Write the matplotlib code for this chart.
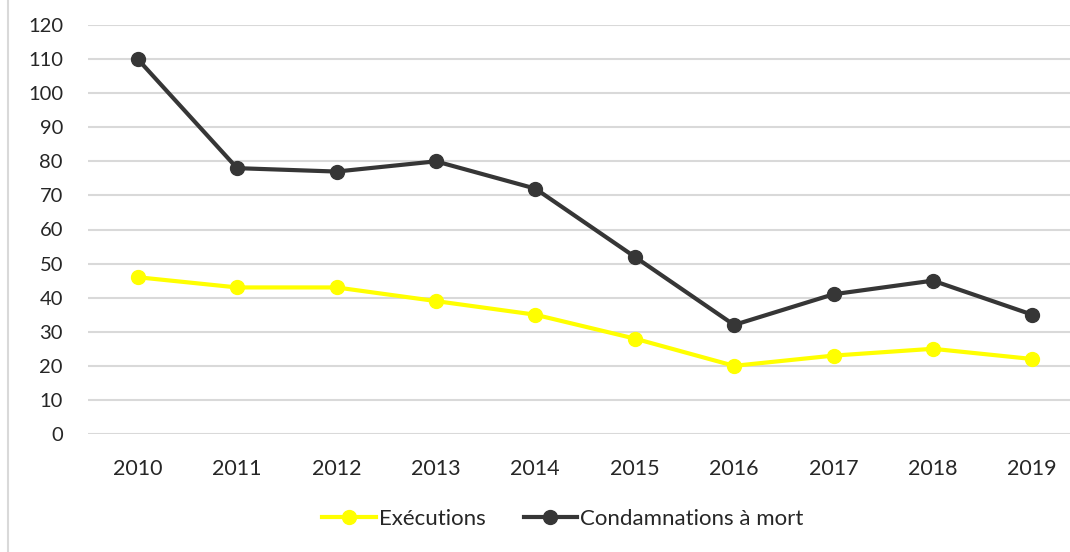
import matplotlib
matplotlib.use("Agg")
import matplotlib.pyplot as plt
from matplotlib.lines import Line2D

annees = ['2010', '2011', '2012', '2013', '2014', '2015', '2016', '2017', '2018', '2019']
executions = [46, 43, 43, 39, 35, 28, 20, 23, 25, 22]
condamnations = [110, 78, 77, 80, 72, 52, 32, 41, 45, 35]

plt.rcParams['font.family'] = ['Lato', 'DejaVu Sans']

fig = plt.figure(figsize=(10.7, 5.52), dpi=100)
ax = fig.add_axes([88 / 1070, 1 - 434 / 552, 994 / 1070, 409 / 552])

x = range(len(annees))
ax.plot(x, executions, color='#FFFF00', lw=3, marker='o', ms=10, label='Exécutions', zorder=3)
ax.plot(x, condamnations, color='#363636', lw=3, marker='o', ms=10, label='Condamnations à mort', zorder=3)

ax.set_xlim(-0.5, 9.5)
ax.set_ylim(0, 120)
ax.set_yticks(range(0, 121, 10))
ax.set_xticks(list(x))
ax.set_xticklabels(annees)
ax.grid(axis='y', color='#d9d9d9', lw=1.5)
ax.set_axisbelow(True)
for s in ax.spines.values():
    s.set_visible(False)
ax.tick_params(axis='both', length=0, colors='#262626')
ax.tick_params(axis='y', pad=18, labelsize=14.5)
ax.tick_params(axis='x', pad=18, labelsize=15.5)

fig.legend(loc='center', bbox_to_anchor=(563 / 1070, 1 - 519 / 552), ncol=2, frameon=False,
           fontsize=16, handlelength=2.4, columnspacing=1.7, handletextpad=0.15, labelcolor='#262626')

# bordure gauche
fig.add_artist(Line2D([8 / 1070, 8 / 1070], [0, 1], color='#d9d9d9', lw=1.5, transform=fig.transFigure))

fig.savefig('out.png', dpi=100)
